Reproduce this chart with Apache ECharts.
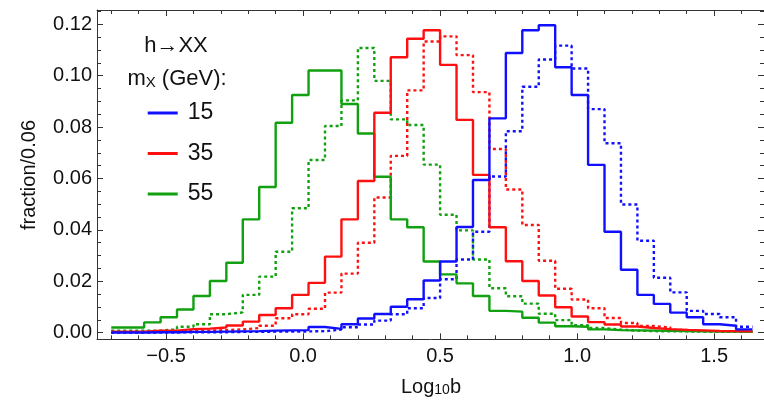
<!DOCTYPE html>
<html>
<head>
<meta charset="utf-8">
<script src="https://cdn.jsdelivr.net/npm/echarts@6/dist/echarts.min.js"></script>
<style>
  html, body { margin: 0; padding: 0; background: #fff; }
  #chart { width: 764px; height: 404px; }
</style>
</head>
<body>
<div id="chart"></div>
<script>
// bin edges of the histograms (width 0.06)
const binEdges = [-0.70, -0.64, -0.58, -0.52, -0.46, -0.40, -0.34, -0.28, -0.22, -0.16,
  -0.10, -0.04, 0.02, 0.08, 0.14, 0.20, 0.26, 0.32, 0.38, 0.44,
  0.50, 0.56, 0.62, 0.68, 0.74, 0.80, 0.86, 0.92, 0.98, 1.04,
  1.10, 1.16, 1.22, 1.28, 1.34, 1.40, 1.46, 1.52, 1.58, 1.64];

// m_X = 15 GeV
const m15Solid = [0.0001, 0.0001, 0.0002, 0.0002, 0.0003, 0.0003, 0.0004, 0.0005, 0.0006, 0.0008,
  0.0009, 0.0010, 0.0022, 0.0015, 0.0033, 0.0055, 0.0073, 0.0101, 0.0130, 0.0203,
  0.0277, 0.0411, 0.0594, 0.0834, 0.1088, 0.1177, 0.1196, 0.1033, 0.0925, 0.0653,
  0.0393, 0.0245, 0.0147, 0.0112, 0.0078, 0.0060, 0.0033, 0.0027, 0.0013];
const m15Dashed = [0.0001, 0.0001, 0.0001, 0.0001, 0.0002, 0.0002, 0.0002, 0.0003, 0.0003, 0.0004,
  0.0004, 0.0005, 0.0006, 0.0012, 0.0021, 0.0032, 0.0047, 0.0072, 0.0095, 0.0135,
  0.0208, 0.0285, 0.0393, 0.0608, 0.0784, 0.0957, 0.1063, 0.1117, 0.1028, 0.0870,
  0.0737, 0.0499, 0.0358, 0.0214, 0.0157, 0.0085, 0.0073, 0.0060, 0.0023];

// m_X = 35 GeV
const m35Solid = [0.0004, 0.0004, 0.0008, 0.0008, 0.0014, 0.0016, 0.0020, 0.0028, 0.0043, 0.0069,
  0.0095, 0.0147, 0.0194, 0.0296, 0.0441, 0.0590, 0.0856, 0.1072, 0.1144, 0.1177,
  0.1042, 0.0828, 0.0614, 0.0410, 0.0278, 0.0201, 0.0145, 0.0099, 0.0063, 0.0041,
  0.0032, 0.0024, 0.0018, 0.0014, 0.0011, 0.0009, 0.0007, 0.0006, 0.0005];
const m35Dashed = [0.0002, 0.0002, 0.0003, 0.0004, 0.0006, 0.0008, 0.0010, 0.0013, 0.0018, 0.0027,
  0.0056, 0.0072, 0.0093, 0.0156, 0.0230, 0.0350, 0.0526, 0.0688, 0.0943, 0.1133,
  0.1153, 0.1080, 0.0936, 0.0715, 0.0557, 0.0419, 0.0280, 0.0171, 0.0129, 0.0095,
  0.0057, 0.0038, 0.0026, 0.0020, 0.0011, 0.0007, 0.0005, 0.0004, 0.0004];

// m_X = 55 GeV
const m55Solid = [0.0020, 0.0020, 0.0040, 0.0060, 0.0090, 0.0143, 0.0201, 0.0272, 0.0441, 0.0567,
  0.0817, 0.0925, 0.1020, 0.1020, 0.0890, 0.0775, 0.0607, 0.0441, 0.0410, 0.0277,
  0.0227, 0.0192, 0.0143, 0.0085, 0.0082, 0.0058, 0.0039, 0.0025, 0.0023, 0.0013,
  0.0010, 0.0009, 0.0008, 0.0007, 0.0006, 0.0005, 0.0004, 0.0004, 0.0003];
const m55Dashed = [0.0008, 0.0008, 0.0008, 0.0013, 0.0023, 0.0033, 0.0072, 0.0079, 0.0147, 0.0218,
  0.0315, 0.0484, 0.0672, 0.0804, 0.0904, 0.1108, 0.0980, 0.0830, 0.0808, 0.0654,
  0.0459, 0.0398, 0.0285, 0.0173, 0.0142, 0.0113, 0.0074, 0.0049, 0.0029, 0.0018,
  0.0012, 0.0008, 0.0006, 0.0005, 0.0005, 0.0004, 0.0004, 0.0003, 0.0003];

// ticks
const xMajorTicks = [-0.5, 0, 0.5, 1, 1.5];
const xMinorTicks = [-0.7, -0.6, -0.4, -0.3, -0.2, -0.1, 0.1, 0.2, 0.3, 0.4, 0.6, 0.7, 0.8, 0.9, 1.1, 1.2, 1.3, 1.4, 1.6];
const yMajorTicks = [0, 0.02, 0.04, 0.06, 0.08, 0.10, 0.12];
const yMinorTicks = [0.005, 0.01, 0.015, 0.025, 0.03, 0.035, 0.045, 0.05, 0.055, 0.065, 0.07, 0.075,
  0.085, 0.09, 0.095, 0.105, 0.11, 0.115, 0.125];

const legendNames = ['15', '35', '55'];
const colors = { '15': '#1010ff', '35': '#ff1010', '55': '#10a010' };

const FONT = "'Liberation Sans', Arial, Helvetica, sans-serif";
const X_MIN = -0.752, X_MAX = 1.682;
const Y_MIN = -0.00257, Y_MAX = 0.12556;
const FRAME = '#333';

const chart = echarts.init(document.getElementById('chart'));

function steps(values) {
    const pts = values.map((v, i) => [binEdges[i], v]);
    pts.push([binEdges[values.length], values[values.length - 1]]);
    return pts;
}

function histSeries(name, values, dashed) {
    const c = colors[name];
    return {
        name: dashed ? name + ' dashed' : name,
        type: 'line',
        step: 'end',
        data: steps(values),
        symbol: 'none',
        silent: true,
        animation: false,
        itemStyle: { color: c },
        lineStyle: { color: c, width: 2.4, type: dashed ? [3, 3] : 'solid' }
    };
}

function fmtX(v) {
    if (v === 0) return '0.0';
    return (v < 0 ? '\u2212' : '') + Math.abs(v).toFixed(1);
}

function xAxis(pos, ticks, len, labels, line) {
    return {
        type: 'value', position: pos, min: X_MIN, max: X_MAX,
        axisLine: { show: line, onZero: false, lineStyle: { color: FRAME, width: 1 } },
        axisTick: { show: true, inside: true, length: len, customValues: ticks,
            lineStyle: { color: FRAME, width: 1 } },
        axisLabel: { show: labels, customValues: ticks, formatter: fmtX, margin: 7,
            fontSize: 20, color: '#111', fontFamily: FONT },
        splitLine: { show: false }
    };
}

function yAxis(pos, ticks, len, labels, line) {
    return {
        type: 'value', position: pos, min: Y_MIN, max: Y_MAX,
        axisLine: { show: line, onZero: false, lineStyle: { color: FRAME, width: 1 } },
        axisTick: { show: true, inside: true, length: len, customValues: ticks,
            lineStyle: { color: FRAME, width: 1 } },
        axisLabel: { show: labels, customValues: ticks, formatter: v => v.toFixed(2), margin: 5,
            fontSize: 20, color: '#111', fontFamily: FONT },
        splitLine: { show: false }
    };
}

const option = {
    backgroundColor: '#fff',
    animation: false,
    grid: { left: 97, right: 0, top: 10, bottom: 64.7, containLabel: false },
    xAxis: [
        xAxis('bottom', xMajorTicks, 6, true, true),
        xAxis('bottom', xMinorTicks, 4, false, false),
        xAxis('top', xMajorTicks, 6, false, true),
        xAxis('top', xMinorTicks, 4, false, false)
    ],
    yAxis: [
        yAxis('left', yMajorTicks, 6, true, true),
        yAxis('left', yMinorTicks, 4, false, false),
        yAxis('right', yMajorTicks, 6, false, true),
        yAxis('right', yMinorTicks, 4, false, false)
    ],
    legend: {
        data: legendNames,
        orient: 'vertical',
        left: 142.7,
        top: 96,
        itemWidth: 30,
        itemHeight: 3,
        itemGap: 16.5,
        icon: 'rect',
        selectedMode: false,
        textStyle: { fontSize: 23, lineHeight: 24, color: '#111', fontFamily: FONT, padding: [0, 0, 0, 5] }
    },
    graphic: [
        {
            type: 'text', x: 176, y: 46,
            style: { text: 'h\u2192XX', fontSize: 22, fontFamily: FONT, fill: '#111',
                align: 'center', verticalAlign: 'middle' }
        },
        {
            type: 'text', x: 177, y: 79,
            style: {
                text: '{a|m}{s|X}{a| (GeV):}',
                align: 'center', verticalAlign: 'middle', fill: '#111',
                rich: {
                    a: { fontSize: 22, fontFamily: FONT, lineHeight: 22, verticalAlign: 'top', fill: '#111' },
                    s: { fontSize: 15, fontFamily: FONT, lineHeight: 14, verticalAlign: 'bottom',
                        padding: [14, 0, 0, 0], fill: '#111' }
                }
            }
        },
        {
            type: 'text', x: 29, y: 175, rotation: Math.PI / 2,
            style: { text: 'fraction/0.06', fontSize: 20, fontFamily: FONT, fill: '#111',
                align: 'center', verticalAlign: 'middle' }
        },
        {
            type: 'text', x: 431, y: 387,
            style: {
                text: '{a|Log}{s|10}{a|b}',
                align: 'center', verticalAlign: 'middle', fill: '#111',
                rich: {
                    a: { fontSize: 20, fontFamily: FONT, lineHeight: 20, verticalAlign: 'top', fill: '#111' },
                    s: { fontSize: 14, fontFamily: FONT, lineHeight: 12, verticalAlign: 'bottom',
                        padding: [12, 0, 0, 0], fill: '#111' }
                }
            }
        }
    ],
    series: [
        histSeries('55', m55Dashed, true),
        histSeries('35', m35Dashed, true),
        histSeries('15', m15Dashed, true),
        histSeries('55', m55Solid, false),
        histSeries('35', m35Solid, false),
        histSeries('15', m15Solid, false)
    ]
};

chart.setOption(option);
</script>
</body>
</html>
